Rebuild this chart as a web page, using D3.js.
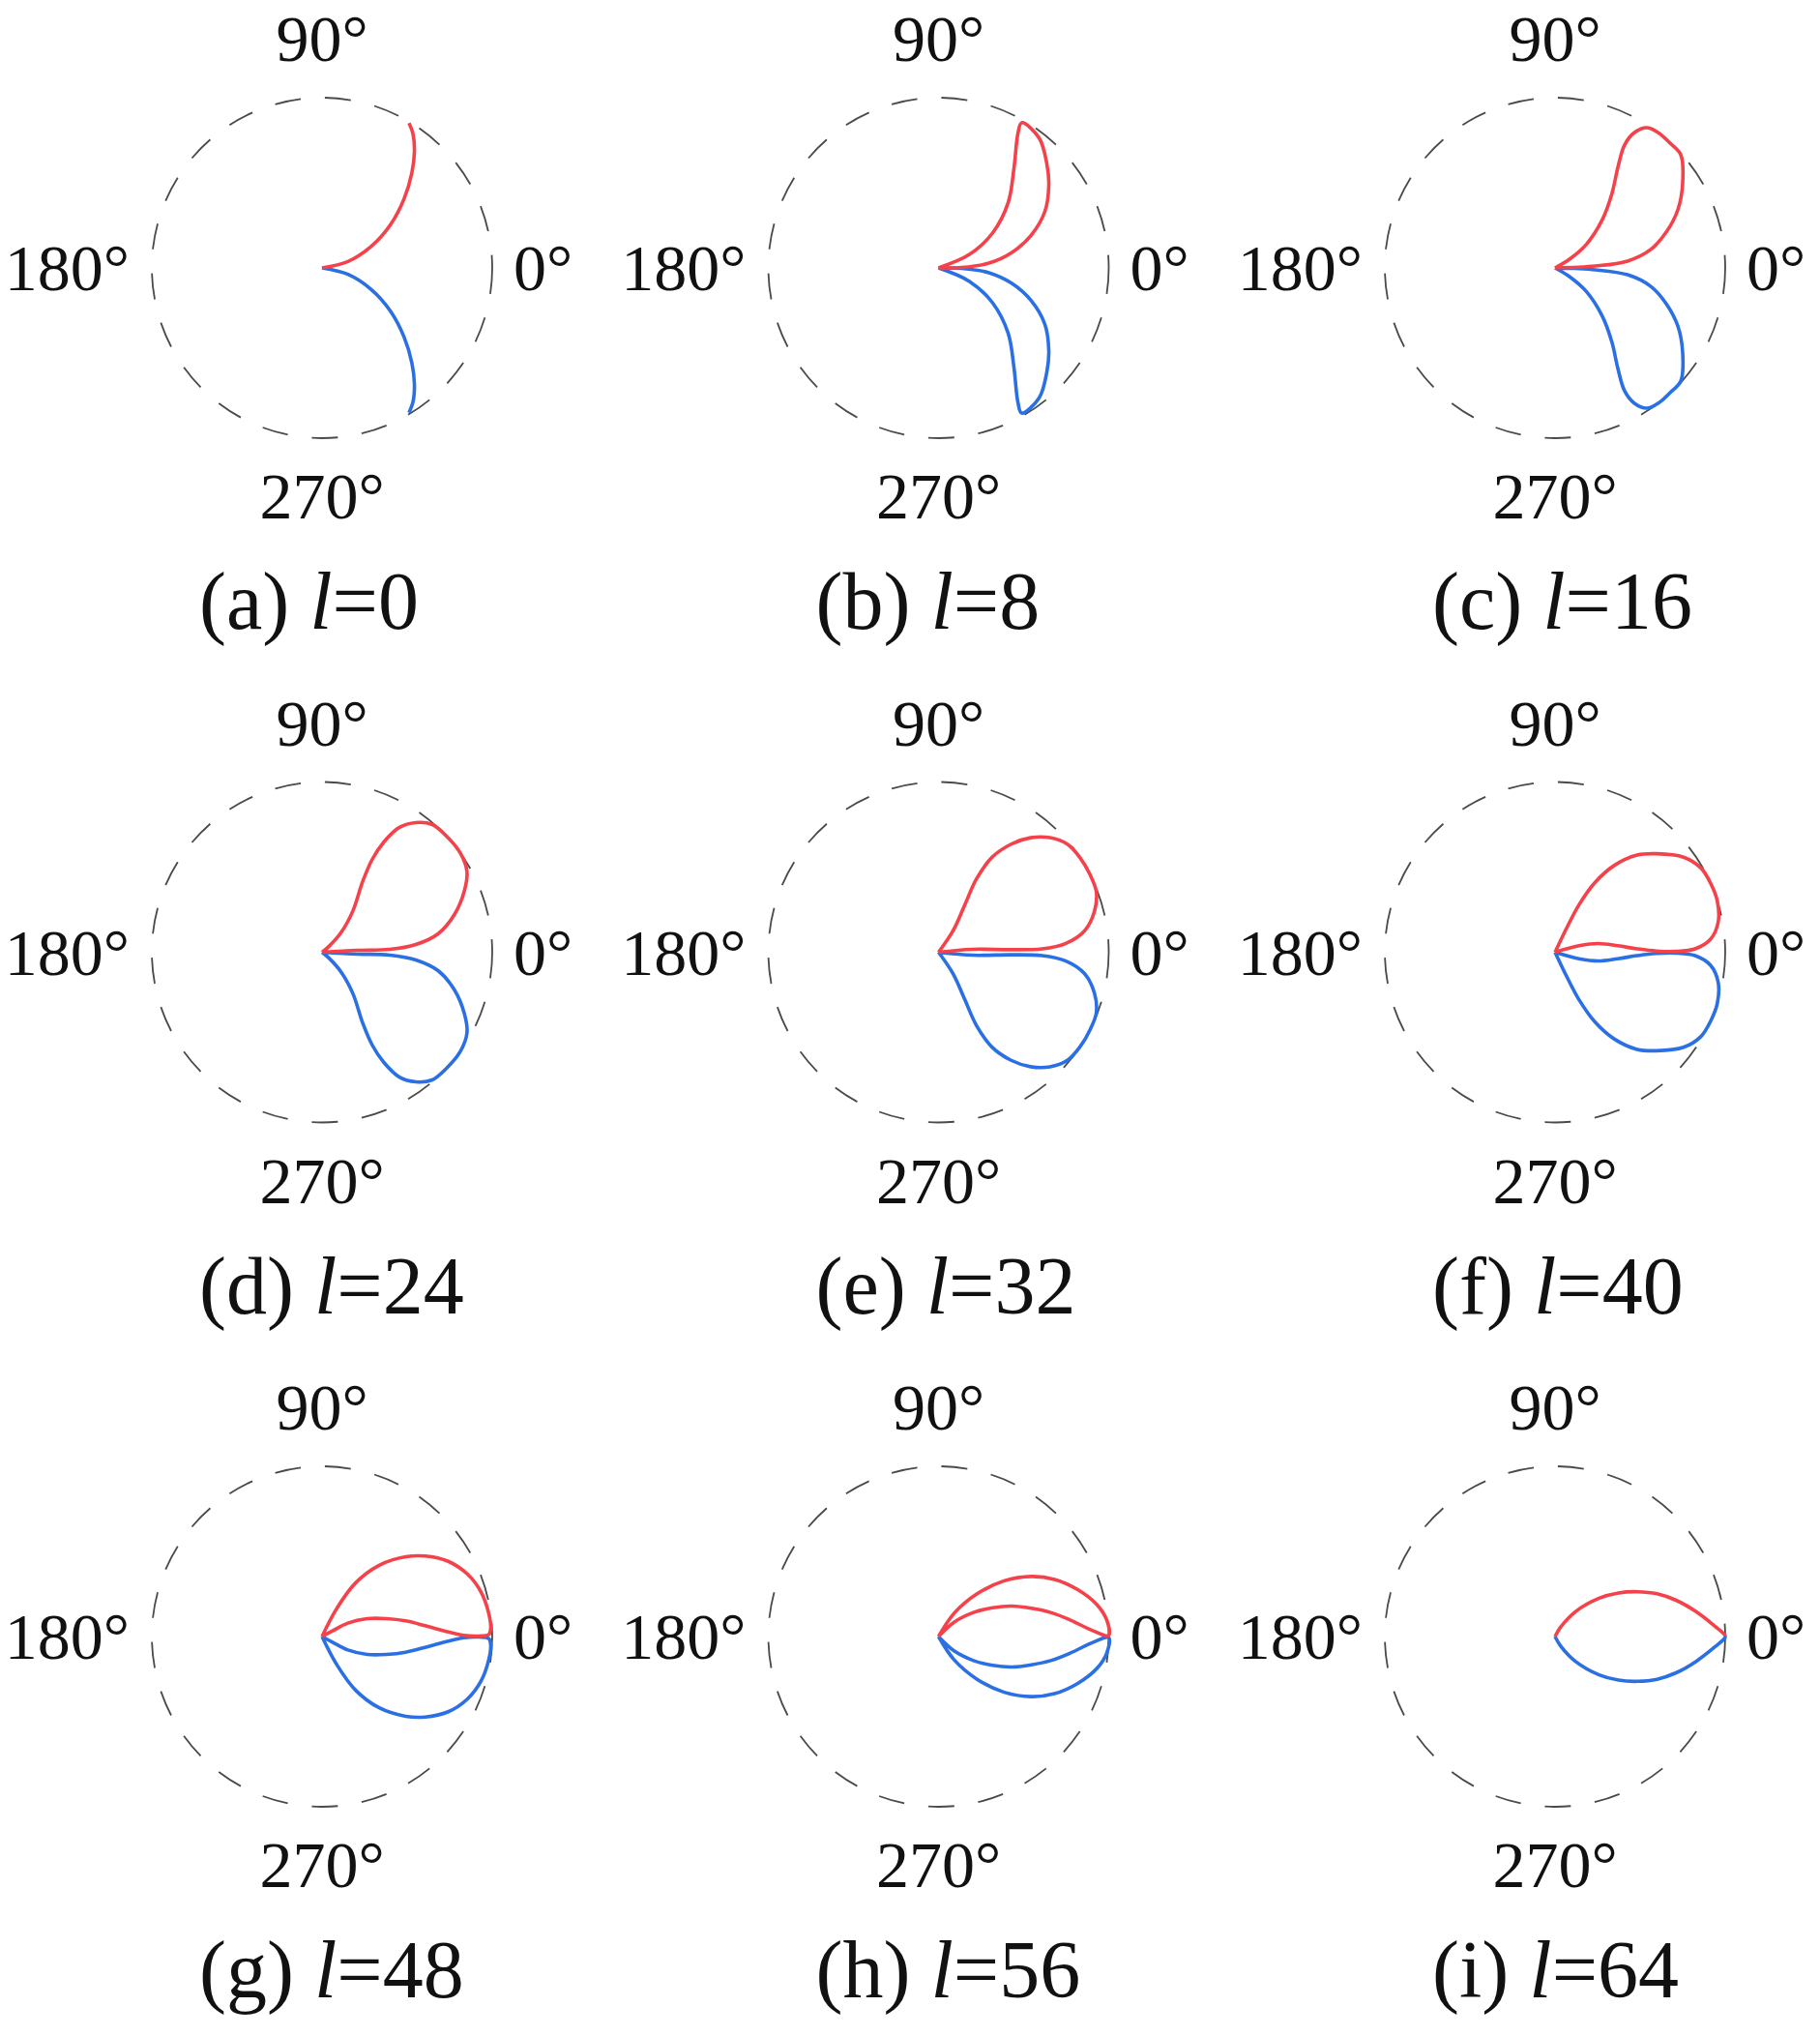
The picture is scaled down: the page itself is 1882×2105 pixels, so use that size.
<!DOCTYPE html>
<html>
<head>
<meta charset="utf-8">
<script src="https://cdn.jsdelivr.net/npm/d3@7"></script>
<style>
  body { margin: 0; background: #fff; }
  svg { display: block; }
</style>
</head>
<body>
<svg id="chart" width="1882" height="2105"></svg>
<script>
// panel captions
const panelIds = ["a", "b", "c", "d", "e", "f", "g", "h", "i"];
const lValues = [0, 8, 16, 24, 32, 40, 48, 56, 64];

// angular tick labels [angle, text]
const angleTicks = [[0, "0°"], [90, "90°"], [180, "180°"], [270, "270°"]];

// curves as [angle in degrees, normalised radius]
const redA = [[0,0],[14,.157],[23.7,.316],[32.3,.476],[40.1,.630],[46.6,.768],[51.6,.874],[55.8,.951],[59,.992]];
const blueA = [[0,0],[-14,.157],[-23.7,.316],[-32.3,.476],[-40.1,.630],[-46.6,.768],[-51.6,.874],[-55.8,.951],[-59,.992]];

const redB = [[0,0],[1.1,.136],[5.4,.297],[11.9,.441],[19.5,.578],[28,.708],[36.8,.809],[43.9,.883],[52.3,.966],[60.2,.983],[59.4,.916],[52.9,.735],[43.1,.560],[32.9,.379],[23.5,.198],[0,0]];
const blueB = [[0,0],[-1.1,.136],[-5.4,.297],[-11.9,.441],[-19.5,.578],[-28,.708],[-36.8,.809],[-43.9,.883],[-52.3,.966],[-60.2,.983],[-59.4,.916],[-52.9,.735],[-43.1,.560],[-32.9,.379],[-23.5,.198],[0,0]];

const redC = [[0,0],[2.7,.239],[5.4,.428],[10.9,.573],[17.8,.686],[25.3,.798],[33.4,.898],[42,.994],[47.3,.997],[52.6,1.0],[56.8,.985],[59.6,.922],[60.5,.830],[58,.697],[52.6,.551],[45.6,.397],[36.8,.227],[31,.099],[0,0]];
const blueC = [[0,0],[-2.7,.239],[-5.4,.428],[-10.9,.573],[-17.8,.686],[-25.3,.798],[-33.4,.898],[-42,.994],[-47.3,.997],[-52.6,1.0],[-56.8,.985],[-59.6,.922],[-60.5,.830],[-58,.697],[-52.6,.551],[-45.6,.397],[-36.8,.227],[-31,.099],[0,0]];

const redD = [[0,0],[3,.210],[2.4,.398],[4.7,.553],[9,.690],[15.9,.809],[23.2,.909],[29,.974],[35.6,1.0],[43,1.0],[49.2,.991],[54.1,.940],[58.2,.863],[60.7,.743],[61.6,.620],[60.1,.479],[53.3,.304],[46.2,.165],[40,.052],[0,0]];
const blueD = [[0,0],[-3,.210],[-2.4,.398],[-4.7,.553],[-9,.690],[-15.9,.809],[-23.2,.909],[-29,.974],[-35.6,1.0],[-43,1.0],[-49.2,.991],[-54.1,.940],[-58.2,.863],[-60.7,.743],[-61.6,.620],[-60.1,.479],[-53.3,.304],[-46.2,.165],[-40,.052],[0,0]];

const redE = [[0,0],[5,.2],[2,.427],[1.9,.609],[3.9,.747],[8.4,.868],[14.7,.947],[21,.993],[27.1,1.0],[33.7,1.0],[40,.988],[45.8,.939],[51.2,.863],[56.1,.765],[60.6,.640],[62.6,.485],[61,.319],[55.9,.153],[0,0]];
const blueE = [[0,0],[-5,.2],[-2,.427],[-1.9,.609],[-3.9,.747],[-8.4,.868],[-14.7,.947],[-21,.993],[-27.1,1.0],[-33.7,1.0],[-40,.988],[-45.8,.939],[-51.2,.863],[-56.1,.765],[-60.6,.640],[-62.6,.485],[-61,.319],[-55.9,.153],[0,0]];

const redF = [[0,0],[15.1,.146],[11.3,.26],[5.9,.37],[2.4,.482],[0.7,.595],[0.4,.709],[1.4,.823],[4.8,.917],[10.5,.975],[17.6,1.0],[23.7,1.0],[30,.99],[36.5,.939],[44.2,.830],[49.8,.747],[55.8,.614],[60.3,.468],[63.2,.313],[64.3,.169],[0,0]];
const blueF = [[0,0],[-15.1,.146],[-11.3,.26],[-5.9,.37],[-2.4,.482],[-0.7,.595],[-0.4,.709],[-1.4,.823],[-4.8,.917],[-10.5,.975],[-17.6,1.0],[-23.7,1.0],[-30,.99],[-36.5,.939],[-44.2,.830],[-49.8,.747],[-55.8,.614],[-60.3,.468],[-63.2,.313],[-64.3,.169],[0,0]];

const redG = [[0,0],[62.4,.182],[58,.371],[51.4,.534],[43.6,.679],[38,.768],[30.8,.863],[23.2,.930],[15.7,.970],[7.9,.989],[2.7,.992],[0.7,.98],[0.2,.923],[0.5,.832],[2.6,.72],[6,.609],[10.6,.5],[15.5,.393],[21.6,.285],[27.5,.171],[28.4,.07],[0,0]];
const blueG = [[0,0],[-62.4,.182],[-58,.371],[-51.4,.534],[-43.6,.679],[-38,.768],[-30.8,.863],[-23.2,.930],[-15.7,.970],[-7.9,.989],[-2.7,.992],[-0.7,.98],[-0.2,.923],[-0.5,.832],[-2.6,.72],[-6,.609],[-10.6,.5],[-15.5,.393],[-21.6,.285],[-27.5,.171],[-28.4,.07],[0,0]];

const redH = [[0,0],[56.2,.163],[47.9,.338],[40.3,.506],[32.9,.650],[26.2,.760],[18.6,.863],[11.3,.950],[5.6,.993],[0.4,1.0],[2.1,.910],[7.2,.779],[12.1,.674],[16.9,.570],[22.5,.467],[28,.360],[34.5,.249],[42.7,.124],[0,0]];
const blueH = [[0,0],[-56.2,.163],[-47.9,.338],[-40.3,.506],[-32.9,.650],[-26.2,.760],[-18.6,.863],[-11.3,.950],[-5.6,.993],[-0.4,1.0],[-2.1,.910],[-7.2,.779],[-12.1,.674],[-16.9,.570],[-22.5,.467],[-28,.360],[-34.5,.249],[-42.7,.124],[0,0]];

const redI = [[0,0],[59.3,.063],[50.3,.193],[41,.343],[34.5,.452],[28.4,.553],[22.7,.650],[16.5,.745],[10.1,.840],[3.6,.943],[0.5,.998],[0,1.0]];
const blueI = [[0,0],[-59.3,.063],[-50.3,.193],[-41,.343],[-34.5,.452],[-28.4,.553],[-22.7,.650],[-16.5,.745],[-10.1,.840],[-3.6,.943],[-0.5,.998],[0,1.0]];

const redCurves = [redA, redB, redC, redD, redE, redF, redG, redH, redI];
const blueCurves = [blueA, blueB, blueC, blueD, blueE, blueF, blueG, blueH, blueI];

const panels = panelIds.map((id, i) => ({id, l: lValues[i], red: redCurves[i], blue: blueCurves[i]}));

const svg = d3.select("#chart");
svg.append("rect").attr("width", 1882).attr("height", 2105).attr("fill", "#fff");

// layout of the 3x3 grid
const colX = d3.scaleLinear().domain([0, 2]).range([333, 1608]);
const rowY = d3.scaleLinear().domain([0, 2]).range([277, 1692]);

const R = 176;
const rScale = d3.scaleLinear().domain([0, 1]).range([0, R]);
// chart angles are counter-clockwise from 3 o'clock, d3 wants clockwise from 12
const toRad = deg => (90 - deg) * Math.PI / 180;

const line = d3.lineRadial()
    .angle(d => toRad(d[0]))
    .radius(d => rScale(d[1]))
    .curve(d3.curveCatmullRom.alpha(0.5));

const font = "'Liberation Serif', 'Times New Roman', serif";

panels.forEach((p, i) => {
    const cx = colX(i % 3), cy = rowY(Math.floor(i / 3));
    const g = svg.append("g").attr("transform", `translate(${cx},${cy})`);

    // dashed outer ring
    g.append("circle")
        .attr("r", rScale(1))
        .attr("fill", "none")
        .attr("stroke", "#4a4a4a")
        .attr("stroke-width", 1.8)
        .attr("stroke-dasharray", "27,25");

    // angle labels
    angleTicks.forEach(([a, txt]) => {
        const t = g.append("text")
            .text(txt)
            .attr("font-family", font)
            .attr("font-size", 68)
            .attr("fill", "#111");
        if (a === 0) t.attr("x", 198).attr("y", 23).attr("text-anchor", "start");
        if (a === 90) t.attr("x", 0).attr("y", -214).attr("text-anchor", "middle");
        if (a === 180) t.attr("x", -199).attr("y", 23).attr("text-anchor", "end");
        if (a === 270) t.attr("x", 0).attr("y", 259).attr("text-anchor", "middle");
    });

    g.append("path")
        .attr("d", line(p.blue))
        .attr("fill", "none")
        .attr("stroke", "#2a70e4")
        .attr("stroke-width", 3.6)
        .attr("stroke-linejoin", "round");

    g.append("path")
        .attr("d", line(p.red))
        .attr("fill", "none")
        .attr("stroke", "#f5414a")
        .attr("stroke-width", 3.6)
        .attr("stroke-linejoin", "round");

    // caption
    const cap = g.append("text")
        .attr("x", -127)
        .attr("y", 373)
        .attr("font-family", font)
        .attr("font-size", 84)
        .attr("fill", "#111");
    cap.append("tspan").text(`(${p.id}) `);
    cap.append("tspan").attr("font-style", "italic").text("l");
    cap.append("tspan").text(`=${p.l}`);
});
</script>
</body>
</html>
